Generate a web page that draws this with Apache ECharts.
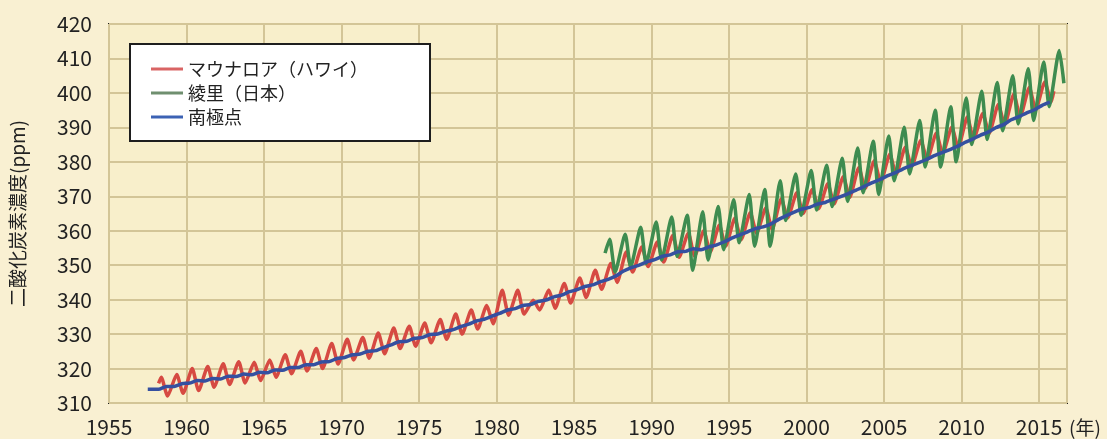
<!DOCTYPE html>
<html>
<head>
<meta charset="utf-8">
<script src="https://cdn.jsdelivr.net/npm/echarts@6/dist/echarts.min.js"></script>
<style>
html,body{margin:0;padding:0;background:#f9f0d2;}
#chart{width:1107px;height:439px;}
</style>
</head>
<body>
<div id="chart"></div>
<script>
// ---- data ----
const seriesNames = ['マウナロア（ハワイ）', '綾里（日本）', '南極点'];
const xTickYears = [1955, 1960, 1965, 1970, 1975, 1980, 1985, 1990, 1995, 2000, 2005, 2010, 2015];
const yTicks = [310, 320, 330, 340, 350, 360, 370, 380, 390, 400, 410, 420];

// Mauna Loa: yearly seasonal maximum and minimum, 1958..2015
const maunaLoaFirstYear = 1958;
const maunaLoaStart = [1958.2, 315.7];
const maunaLoaPeak = [317.5,318.3,320.0,320.6,321.4,322.0,321.8,322.5,324.0,325.0,325.8,327.3,328.5,329.0,330.3,331.8,332.3,333.2,334.2,335.8,337.0,338.3,342.7,342.7,339.8,342.8,344.7,346.3,348.5,350.5,353.8,355.3,356.7,358.6,359.3,360.0,361.6,363.6,365.2,366.6,369.3,371.0,372.0,373.6,375.7,378.3,380.3,382.2,384.2,386.2,388.3,390.0,393.0,394.0,396.6,399.6,401.6,403.2];
const maunaLoaTrough = [312.0,312.8,313.6,314.6,315.4,315.8,316.5,317.5,318.5,319.3,320.0,321.3,322.5,323.0,324.3,325.8,326.5,327.5,328.5,330.0,331.5,333.0,335.5,335.8,337.0,337.5,339.0,340.6,343.0,345.0,348.0,349.6,350.9,352.3,352.6,353.8,355.5,357.4,359.3,360.4,363.7,365.0,366.4,367.8,369.7,372.3,374.0,376.3,378.6,380.7,382.4,384.2,386.6,388.3,390.7,393.1,395.1,397.4];
const maunaLoaEnd = [2015.95, 400.5];

// Ryori: yearly seasonal maximum and minimum, 1987..2015
const ryoriFirstYear = 1987;
const ryoriStart = [1987.0, 353.5];
const ryoriPeak = [357.5,359.0,361.0,362.5,364.0,364.5,365.5,367.0,369.0,370.5,372.0,374.5,376.5,377.5,379.0,381.0,384.0,386.0,387.5,390.0,392.0,395.0,396.0,398.5,400.5,403.0,405.0,407.0,409.0];
const ryoriTrough = [348.0,349.5,350.5,351.5,352.5,348.5,351.5,354.5,356.5,355.5,355.5,363.0,364.5,366.0,367.0,368.5,371.0,370.5,374.5,376.5,378.5,378.5,380.0,385.0,386.5,389.0,391.0,392.0,396.0];
const ryoriEnd = [[2016.3, 412.3], [2016.6, 402.8]];

// South Pole: yearly seasonal low and high, 1958..2015
const southPoleFirstYear = 1958;
const southPoleStart = [1957.5, 314.0];
const southPoleLow = [314.0,314.8,315.8,316.4,317.0,317.7,318.2,318.8,319.5,320.3,321.1,322.0,323.2,324.2,325.2,326.9,327.9,329.0,330.0,331.3,332.9,334.3,336.0,337.4,338.6,339.9,341.3,342.9,344.3,345.9,348.3,350.0,351.6,353.0,354.0,354.5,355.9,357.9,359.7,361.1,363.3,365.4,366.8,368.2,369.9,371.8,373.9,375.9,377.9,379.7,381.7,383.5,385.6,387.7,389.9,392.2,394.2,396.4];
const southPoleHigh = [314.8,315.6,316.5,317.1,317.8,318.4,318.9,319.6,320.3,321.1,321.9,322.9,324.0,325.0,326.1,327.8,328.8,329.9,330.8,332.2,333.8,335.2,337.0,338.3,339.5,340.8,342.3,343.8,345.2,346.9,349.3,351.0,352.6,353.9,354.8,355.3,356.8,358.8,360.6,362.0,364.4,366.3,367.7,369.1,370.8,372.8,374.8,376.8,378.8,380.6,382.6,384.4,386.6,388.6,390.8,393.1,395.1,397.3];

// ---- build [time, value] pairs ----
function seasonal(first, start, hi, lo, hiPhase, loPhase, tail) {
  const out = [start];
  for (let i = 0; i < hi.length; i++) {
    const y = first + i;
    out.push([y + hiPhase, hi[i]]);
    if (i < lo.length) out.push([y + loPhase, lo[i]]);
  }
  return out.concat(tail);
}
const maunaLoaData = seasonal(maunaLoaFirstYear, maunaLoaStart, maunaLoaPeak, maunaLoaTrough, 0.37, 0.78, [maunaLoaEnd]);
const ryoriData = seasonal(ryoriFirstYear, ryoriStart, ryoriPeak, ryoriTrough, 0.3, 0.65, ryoriEnd);
const southPoleData = seasonal(southPoleFirstYear, southPoleStart, southPoleLow, southPoleHigh, 0.2, 0.7, []);

const colors = ['#d64a42', '#3e8c50', '#3550a0'];
const legendColors = ['#d96464', '#6f8f6f', '#3c62b4'];
const font = '"Noto Sans CJK JP", "Noto Sans", sans-serif';

const chart = echarts.init(document.getElementById('chart'));
chart.setOption({
  backgroundColor: '#f9f0d2',
  animation: false,
  grid: {
    left: 106, top: 24, width: 961, height: 379,
    show: true, backgroundColor: '#f8efcb', borderColor: '#1e1e1e', borderWidth: 2
  },
  legend: {
    orient: 'vertical', left: 130, top: 44,
    backgroundColor: '#ffffff', borderColor: '#1e1e1e', borderWidth: 2,
    padding: [16, 62, 15, 21],
    icon: 'rect',
    itemWidth: 32, itemHeight: 3, itemGap: 6,
    textStyle: { fontSize: 18, lineHeight: 18, color: '#222', fontFamily: font },
    data: seriesNames.map((n, i) => ({ name: n, itemStyle: { color: legendColors[i] } })),
    selectedMode: false
  },
  xAxis: {
    type: 'value', min: 1955, max: 2016.8, interval: 5,
    axisLine: { show: false }, axisTick: { show: false },
    axisLabel: {
      showMaxLabel: false, margin: 14, fontSize: 21, color: '#222', fontFamily: font,
      formatter: v => xTickYears.includes(v) ? String(v) : ''
    },
    splitLine: { show: true, lineStyle: { color: '#d3c597', width: 2 } }
  },
  yAxis: {
    type: 'value', min: yTicks[0], max: yTicks[yTicks.length - 1], interval: 10,
    axisLine: { show: false }, axisTick: { show: false },
    axisLabel: { margin: 17, fontSize: 21, color: '#222', fontFamily: font },
    splitLine: { show: true, lineStyle: { color: '#d3c597', width: 2 } },
    name: '二酸化炭素濃度(ppm)', nameLocation: 'middle', nameGap: 82, nameRotate: 90,
    nameTextStyle: { fontSize: 19, color: '#222', fontFamily: font }
  },
  graphic: [{
    type: 'text', x: 1069, y: 428,
    style: { text: '(年)', font: '19px ' + font, fill: '#222', textVerticalAlign: 'middle' }
  }],
  series: [
    { name: seriesNames[0], type: 'line', data: maunaLoaData, symbol: 'none', smooth: 0.2, z: 2,
      lineStyle: { color: colors[0], width: 3.5 }, itemStyle: { color: colors[0] } },
    { name: seriesNames[1], type: 'line', data: ryoriData, symbol: 'none', smooth: 0.2, z: 3,
      lineStyle: { color: colors[1], width: 3.5 }, itemStyle: { color: colors[1] } },
    { name: seriesNames[2], type: 'line', data: southPoleData, symbol: 'none', smooth: 0.2, z: 4,
      lineStyle: { color: colors[2], width: 3.5 }, itemStyle: { color: colors[2] } }
  ]
});
</script>
</body>
</html>
